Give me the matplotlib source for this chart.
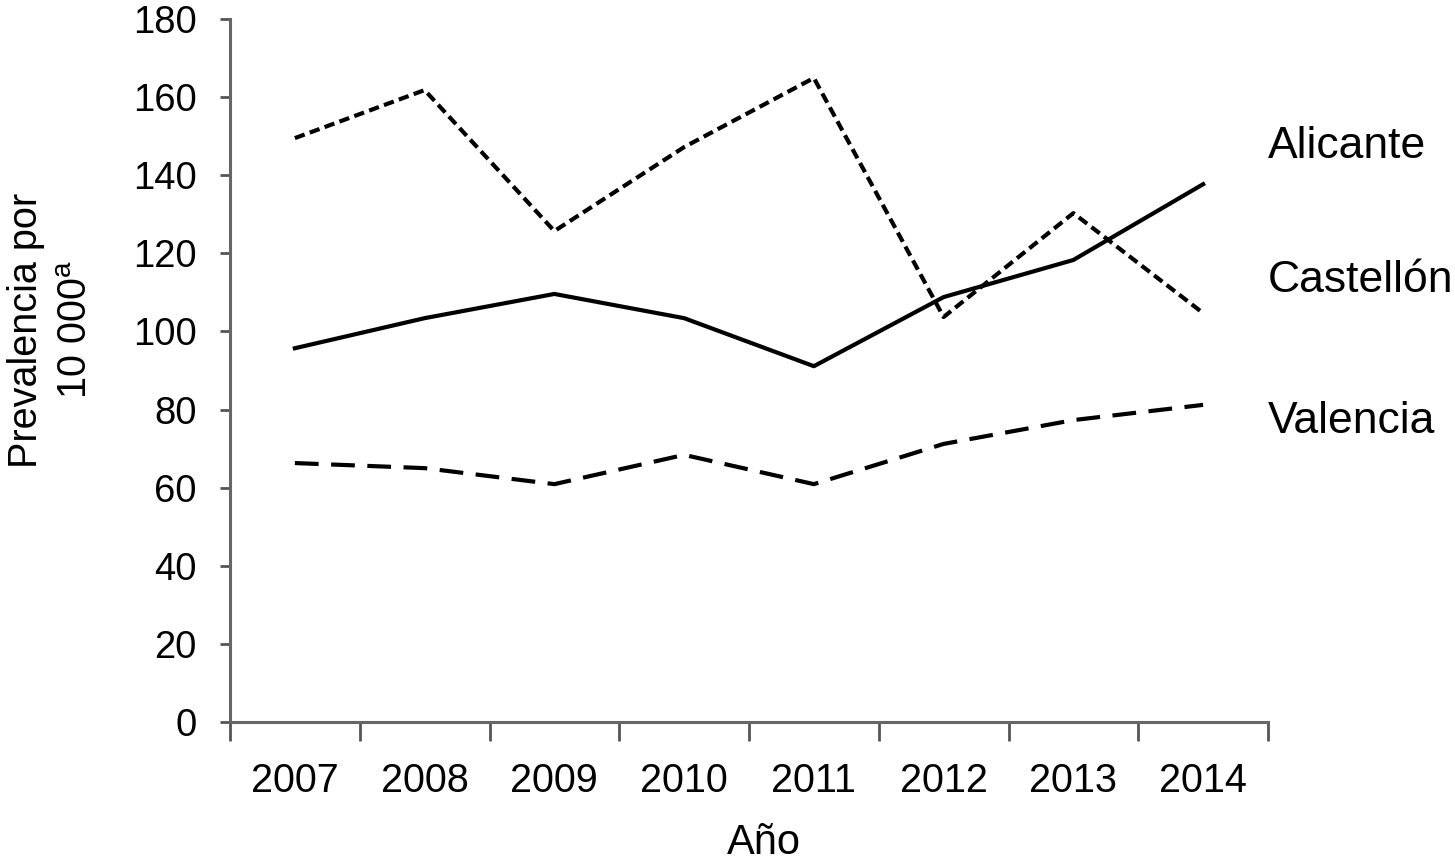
import matplotlib
matplotlib.use("Agg")
import matplotlib.pyplot as plt
import matplotlib.transforms as mtransforms

# prevalencia por 10 000
years = ["2007", "2008", "2009", "2010", "2011", "2012", "2013", "2014"]
alicante = [149.5, 161.8, 125.7, 147.2, 164.9, 103.7, 130.3, 104.7]
castellon = [95.7, 103.4, 109.6, 103.4, 91.1, 108.8, 118.3, 137.7]
valencia = [66.3, 65.0, 60.9, 68.4, 60.9, 71.2, 77.3, 81.2]
yticks = [0, 20, 40, 60, 80, 100, 120, 140, 160, 180]

plt.rcParams['font.family'] = ['Liberation Sans', 'DejaVu Sans']
plt.rcParams['mathtext.fontset'] = 'custom'
plt.rcParams['mathtext.rm'] = 'Liberation Sans'

fig = plt.figure(figsize=(14.55, 8.67), dpi=100)
ax = fig.add_axes([230 / 1455, 1 - 722 / 867, 1038 / 1455, 703 / 867])

x = list(range(1, len(years) + 1))
lw = 3.0
ax.plot(x, alicante, color='black', lw=lw, dashes=(2.5, 1.3))
ax.plot(x, castellon, color='black', lw=lw)
ax.plot(x, valencia, color='black', lw=lw, dashes=(5.7, 3.0))

ax.set_xlim(0.5, len(years) + 0.5)
ax.set_ylim(0, 180)
ax.set_yticks(yticks)
ax.set_yticklabels([str(v) for v in yticks])

# ticks between categories, labels centred on categories
ax.set_xticks([i + 0.5 for i in range(0, len(years) + 1)])
ax.set_xticklabels([])
ax.set_xticks(x, minor=True)
ax.set_xticklabels(years, minor=True)
ax.tick_params(axis='x', which='major', length=14, width=2, color='#555555', direction='out')
ax.tick_params(axis='x', which='minor', length=0, pad=29, labelsize=28.5)
ax.tick_params(axis='y', length=7, width=2, color='#555555', pad=17, labelsize=27.5)

for side in ['top', 'right']:
    ax.spines[side].set_visible(False)
for side in ['left', 'bottom']:
    ax.spines[side].set_color('#666666')
    ax.spines[side].set_linewidth(2.2)

# etiquetas de serie a la derecha
trans = mtransforms.blended_transform_factory(ax.transAxes, ax.transData)
ax.text(1.0, 144.4, "Alicante", transform=trans, fontsize=32, va='baseline', ha='left')
ax.text(1.0, 110.1, "Castellón", transform=trans, fontsize=32, va='baseline', ha='left')
ax.text(1.0, 74.0, "Valencia", transform=trans, fontsize=32, va='baseline', ha='left')

fig.text(51 / 1455, 1 - 330 / 867, "Prevalencia por\n10 000$^{\\mathrm{a}}$", rotation=90,
         ha='center', va='center', multialignment='center', fontsize=28.5, linespacing=1.4)
fig.text(764 / 1455, 1 - 854 / 867, "Año", ha='center', va='baseline', fontsize=30)

fig.savefig("out.png", dpi=100)
